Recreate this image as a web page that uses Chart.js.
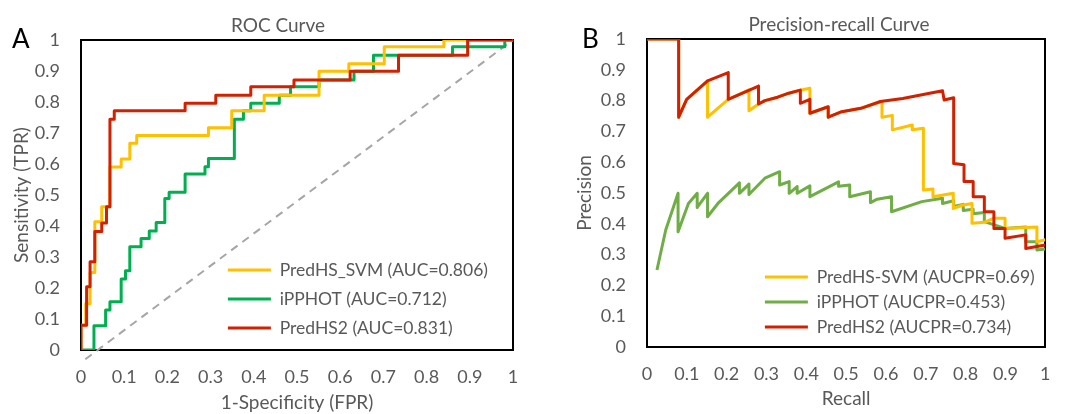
<!DOCTYPE html>
<html><head><meta charset="utf-8">
<script src="https://cdn.jsdelivr.net/npm/chart.js@4"></script>
<style>
html,body{margin:0;padding:0;background:#fff}
body{width:1067px;height:414px;overflow:hidden;position:relative;font-family:Lato,sans-serif}
#c1{position:absolute;left:0;top:0}
#c2{position:absolute;left:556px;top:0}
.panel{position:absolute;font-family:Lato,sans-serif;font-size:26px;color:#000;line-height:1}
</style></head><body>
<canvas id="c1" width="556" height="414"></canvas>
<canvas id="c2" width="511" height="414"></canvas>
<div class="panel" style="left:12px;top:25px">A</div>
<div class="panel" style="left:582px;top:25px">B</div>
<script>
// ---------- data ----------
const tickLabels = ['0','0.1','0.2','0.3','0.4','0.5','0.6','0.7','0.8','0.9','1'];

// ROC curve
const rocLabels = ['PredHS_SVM (AUC=0.806)','iPPHOT (AUC=0.712)','PredHS2 (AUC=0.831)'];
const rocSvmFpr = [0,0,0.011,0.011,0.021,0.021,0.032,0.032,0.048,0.048,0.067,0.067,0.093,0.093,0.113,0.113,0.129,0.129,0.295,0.295,0.349,0.349,0.424,0.424,0.551,0.551,0.620,0.620,0.702,0.702,0.840,0.840,1];
const rocSvmTpr = [0,0.08,0.08,0.15,0.15,0.25,0.25,0.414,0.414,0.462,0.462,0.59,0.59,0.616,0.616,0.667,0.667,0.692,0.692,0.717,0.717,0.772,0.772,0.822,0.822,0.899,0.899,0.923,0.923,0.978,0.978,1,1];
const rocIppFpr = [0,0.030,0.030,0.057,0.057,0.067,0.067,0.093,0.093,0.103,0.103,0.113,0.113,0.139,0.139,0.158,0.158,0.174,0.174,0.194,0.194,0.204,0.204,0.241,0.241,0.287,0.287,0.295,0.295,0.355,0.355,0.376,0.376,0.393,0.393,0.459,0.459,0.485,0.485,0.551,0.551,0.632,0.632,0.677,0.677,0.860,0.860,0.981,0.981,1];
const rocIppTpr = [0,0,0.078,0.078,0.129,0.129,0.156,0.156,0.229,0.229,0.256,0.256,0.333,0.333,0.36,0.36,0.384,0.384,0.411,0.411,0.489,0.489,0.509,0.509,0.568,0.568,0.591,0.591,0.618,0.618,0.744,0.744,0.772,0.772,0.796,0.796,0.822,0.822,0.849,0.849,0.871,0.871,0.899,0.899,0.951,0.951,0.978,0.978,1,1];
const rocHs2Fpr = [0,0,0.013,0.013,0.021,0.021,0.032,0.032,0.048,0.048,0.059,0.059,0.067,0.067,0.077,0.077,0.241,0.241,0.312,0.312,0.393,0.393,0.493,0.493,0.623,0.623,0.735,0.735,0.895,0.895,1];
const rocHs2Tpr = [0,0.08,0.08,0.204,0.204,0.285,0.285,0.382,0.382,0.41,0.41,0.462,0.462,0.744,0.744,0.772,0.772,0.796,0.796,0.822,0.822,0.849,0.849,0.871,0.871,0.899,0.899,0.951,0.951,1,1];
const rocRefFpr = [0.01,1];
const rocRefTpr = [-0.03,1];

// Precision-recall curve
const prLabels = ['PredHS-SVM (AUCPR=0.69)','iPPHOT (AUCPR=0.453)','PredHS2 (AUCPR=0.734)'];
const prSvmRecall = [0,0.0795,0.0795,0.0996,0.152,0.152,0.204,0.256,0.256,0.280,0.296,0.328,0.356,0.385,0.409,0.409,0.455,0.455,0.489,0.537,0.590,0.590,0.616,0.616,0.666,0.666,0.694,0.694,0.718,0.718,0.769,0.769,0.794,0.816,0.816,0.847,0.871,0.899,0.899,0.979,0.979,1];
const prSvmPrec   = [1,1,0.746,0.804,0.864,0.746,0.804,0.835,0.767,0.789,0.800,0.811,0.824,0.834,0.840,0.759,0.780,0.746,0.764,0.775,0.797,0.746,0.752,0.705,0.721,0.705,0.710,0.510,0.513,0.488,0.499,0.450,0.461,0.466,0.402,0.405,0.418,0.418,0.385,0.390,0.342,0.348];
const prIppRecall = [0.025,0.047,0.078,0.078,0.104,0.126,0.126,0.152,0.152,0.180,0.232,0.232,0.256,0.256,0.296,0.333,0.333,0.357,0.357,0.377,0.377,0.409,0.409,0.481,0.481,0.509,0.509,0.561,0.561,0.578,0.614,0.614,0.690,0.742,0.742,0.770,0.770,0.794,0.794,0.819,0.819,0.847,0.847,0.899,0.951,0.951,0.979,0.979,1];
const prIppPrec   = [0.25,0.38,0.499,0.374,0.466,0.499,0.453,0.499,0.423,0.469,0.533,0.499,0.529,0.495,0.548,0.569,0.526,0.537,0.499,0.521,0.499,0.523,0.488,0.536,0.522,0.526,0.488,0.504,0.469,0.480,0.488,0.439,0.472,0.483,0.466,0.475,0.456,0.463,0.443,0.447,0.433,0.437,0.407,0.385,0.390,0.342,0.342,0.315,0.318];
const prHs2Recall = [0,0.0795,0.0795,0.0996,0.152,0.204,0.204,0.280,0.280,0.296,0.328,0.356,0.385,0.385,0.409,0.409,0.455,0.455,0.489,0.537,0.586,0.642,0.742,0.746,0.770,0.770,0.796,0.796,0.819,0.819,0.847,0.847,0.871,0.871,0.899,0.899,0.951,0.951,1];
const prHs2Prec   = [1,1,0.746,0.804,0.864,0.891,0.804,0.847,0.789,0.800,0.811,0.824,0.834,0.791,0.804,0.759,0.780,0.746,0.764,0.775,0.797,0.807,0.832,0.802,0.809,0.596,0.592,0.537,0.537,0.488,0.488,0.439,0.439,0.385,0.385,0.353,0.364,0.320,0.331];

// ---------- styling ----------
const F = 'Lato, "Open Sans", sans-serif';
const TXT = '#595959';
const YELLOW = '#FFC000', GREEN = '#00B050', LGREEN = '#70AD47', RED = '#D22000', GREY = '#A6A6A6';
const TICK_SIZE = 18, LEGEND_SIZE = 17.5, TITLE_SIZE = 19;

const pts = (xs, ys) => xs.map((x, i) => ({x, y: ys[i]}));

const placer = {
  id: 'placer',
  afterLayout(chart, args, opts) {
    const xs = chart.scales.x, ca = chart.chartArea;
    const t = chart.titleBlock;
    if (t && opts.titleCenter != null) {
      const w = t.right - t.left, c = xs.getPixelForValue(opts.titleCenter);
      t.left = c - w / 2; t.right = c + w / 2;
    }
    const lg = chart.legend;
    if (lg && opts.legendX != null) {
      const pad = lg.options.labels.padding, w = lg.width;
      lg.left = xs.getPixelForValue(opts.legendX) - pad;
      lg.right = lg.left + w;
      lg.top = ca.top;
      lg.bottom = ca.bottom - (opts.legendGap || 0);
      lg.height = lg.bottom - lg.top;
    }
  }
};

function lineDs(label, data, color, order) {
  return {label, data, borderColor: color, backgroundColor: color, borderWidth: 3,
    pointRadius: 0, pointHoverRadius: 0, showLine: true, fill: false, tension: 0,
    borderJoinStyle: 'round', order};
}

function makeChart(canvas, cfg) {
  return new Chart(canvas, {
    type: 'scatter',
    data: {datasets: cfg.datasets},
    plugins: [placer],
    options: {
      responsive: false, animation: false, devicePixelRatio: 1,
      layout: {padding: {left: 0, right: cfg.padRight, top: 0, bottom: 0}},
      plugins: {
        tooltip: {enabled: false},
        title: {display: true, text: cfg.title, color: TXT,
          font: {family: F, size: TITLE_SIZE, weight: 'normal'}, padding: {top: cfg.titleTop, bottom: 3.2}},
        legend: {position: 'chartArea', align: 'end',
          labels: {boxWidth: 43, boxHeight: 3, padding: cfg.legendPad, color: TXT,
            font: {family: F, size: LEGEND_SIZE},
            generateLabels: (chart) => chart.data.datasets
              .map((d, i) => ({text: d.label, fillStyle: d.borderColor, strokeStyle: d.borderColor,
                lineWidth: 0, datasetIndex: i, hidden: false, fontColor: TXT}))
              .filter(l => l.text)}},
        placer: {titleCenter: cfg.titleCenter, legendX: cfg.legendX, legendGap: cfg.legendGap}
      },
      scales: {
        x: {type: 'linear', position: 'bottom', min: 0, max: 1,
          ticks: {stepSize: 0.1, autoSkip: false, maxRotation: 0, color: TXT, padding: 16.5,
            font: {family: F, size: TICK_SIZE}, callback: v => tickLabels[Math.round(v * 10)]},
          grid: {display: false, drawTicks: false},
          border: {display: true, color: '#000', width: 2},
          title: {display: true, text: cfg.xTitle, color: TXT, font: {family: F, size: TITLE_SIZE},
            padding: {top: 0, bottom: cfg.xTitlePad}},
          afterFit: s => { s.height = cfg.xAxisH; }},
        y: {type: 'linear', position: 'left', min: 0, max: 1,
          ticks: {stepSize: 0.1, autoSkip: false, color: TXT, padding: 21,
            font: {family: F, size: TICK_SIZE}, callback: v => tickLabels[Math.round(v * 10)]},
          grid: {display: false, drawTicks: false},
          border: {display: true, color: '#000', width: 2},
          title: {display: true, text: cfg.yTitle, color: TXT, font: {family: F, size: TITLE_SIZE},
            padding: {top: cfg.yTitlePad, bottom: 0}},
          afterFit: s => { s.width = cfg.yAxisW; }},
        x2: {type: 'linear', position: 'top', min: 0, max: 1,
          ticks: {display: false}, grid: {display: false, drawTicks: false},
          border: {display: true, color: '#000', width: 2},
          afterFit: s => { s.height = 0; }},
        y2: {type: 'linear', position: 'right', min: 0, max: 1,
          ticks: {display: false}, grid: {display: false, drawTicks: false},
          border: {display: true, color: '#000', width: 2},
          afterFit: s => { s.width = 0; }}
      }
    }
  });
}

const refDs = {label: '', data: pts(rocRefFpr, rocRefTpr), borderColor: GREY, borderWidth: 2,
  borderDash: [8, 6], pointRadius: 0, showLine: true, fill: false, clip: false, order: 3};

makeChart(document.getElementById('c1'), {
  title: 'ROC Curve', titleTop: 14, titleCenter: 0.456,
  xTitle: '1-Specificity (FPR)', yTitle: 'Sensitivity (TPR)',
  xAxisH: 64, yAxisW: 81, padRight: 43, xTitlePad: 0, yTitlePad: 10.6,
  legendPad: 11.5, legendX: 0.34, legendGap: 1.75,
  datasets: [
    lineDs(rocLabels[0], pts(rocSvmFpr, rocSvmTpr), YELLOW, 1),
    lineDs(rocLabels[1], pts(rocIppFpr, rocIppTpr), GREEN, 2),
    lineDs(rocLabels[2], pts(rocHs2Fpr, rocHs2Tpr), RED, 0),
    refDs
  ]
});

makeChart(document.getElementById('c2'), {
  title: 'Precision-recall Curve', titleTop: 13, titleCenter: 0.482,
  xTitle: 'Recall', yTitle: 'Precision',
  xAxisH: 67, yAxisW: 91, padRight: 5, xTitlePad: 3.6, yTitlePad: 17.6,
  legendPad: 7.5, legendX: 0.296, legendGap: 3.75,
  datasets: [
    lineDs(prLabels[0], pts(prSvmRecall, prSvmPrec), YELLOW, 1),
    lineDs(prLabels[1], pts(prIppRecall, prIppPrec), LGREEN, 2),
    lineDs(prLabels[2], pts(prHs2Recall, prHs2Prec), RED, 0)
  ]
});
</script>
</body></html>
